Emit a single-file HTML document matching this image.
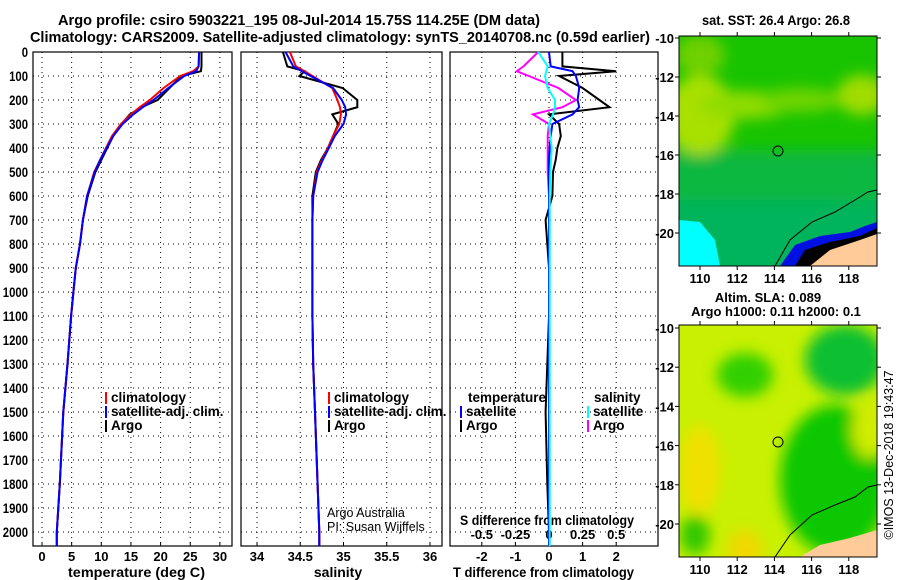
<!DOCTYPE html>
<html><head><meta charset="utf-8"><style>
body{margin:0;background:#fff;}
svg{display:block;font-family:"Liberation Sans",sans-serif;}
.b{font-weight:bold;}
</style></head><body>
<svg id="fig" width="900" height="580" viewBox="0 0 900 580">
<defs>
<filter id="blur" x="-30%" y="-30%" width="160%" height="160%"><feGaussianBlur stdDeviation="7"/></filter>
<clipPath id="m1"><rect x="679" y="36" width="198" height="230"/></clipPath>
<clipPath id="m2"><rect x="679" y="325" width="198" height="232"/></clipPath>
</defs>
<text class="b" x="58" y="25" font-size="15" textLength="482" lengthAdjust="spacingAndGlyphs">Argo profile: csiro 5903221_195 08-Jul-2014 15.75S 114.25E (DM data)</text>
<text class="b" x="30" y="42" font-size="15" textLength="620" lengthAdjust="spacingAndGlyphs">Climatology: CARS2009. Satellite-adjusted climatology: synTS_20140708.nc (0.59d earlier)</text>
<g id="plots"></g>
<!-- Map 1 -->
<g clip-path="url(#m1)">
<rect x="679" y="36" width="198" height="230" fill="#18c400"/>
<g filter="url(#blur)">
<rect x="670" y="150" width="220" height="130" fill="#08b840"/>
<rect x="670" y="200" width="220" height="80" fill="#00b45c"/>
<ellipse cx="700" cy="115" rx="35" ry="40" fill="#a8e000"/>
<ellipse cx="745" cy="105" rx="45" ry="14" fill="#90dc00"/>
<ellipse cx="800" cy="100" rx="40" ry="12" fill="#70d400"/>
<ellipse cx="862" cy="95" rx="25" ry="20" fill="#a0dc00"/>
<ellipse cx="700" cy="55" rx="25" ry="20" fill="#70d000"/>
</g>
<polygon points="679,220 700,222 715,240 720,266 679,266" fill="#00ffff"/>
<polygon points="780,266 795,245 820,236 850,232 865,226 877,222 877,266" fill="#0010e0"/>
<polygon points="795,266 805,250 830,242 860,236 877,228 877,266" fill="#000"/>
<polygon points="810,266 830,250 860,240 877,234 877,266" fill="#ffcc99"/>
<polyline points="775,266 790,240 812,222 835,212 855,200 868,192 877,190" fill="none" stroke="#000" stroke-width="1"/>
<circle cx="778" cy="151" r="5" fill="none" stroke="#000"/>
</g>
<rect x="679" y="36" width="198" height="230" fill="none" stroke="#000"/>
<text class="b" x="702" y="25" font-size="13.5" textLength="148" lengthAdjust="spacingAndGlyphs">sat. SST: 26.4 Argo: 26.8</text>
<!-- Map 2 -->
<g clip-path="url(#m2)">
<rect x="679" y="325" width="198" height="232" fill="#c8f000"/>
<g filter="url(#blur)">
<ellipse cx="745" cy="375" rx="28" ry="22" fill="#30d000"/>
<ellipse cx="845" cy="360" rx="40" ry="35" fill="#10c030"/>
<ellipse cx="835" cy="480" rx="55" ry="75" fill="#10c800"/>
<ellipse cx="700" cy="470" rx="20" ry="45" fill="#f0e000"/>
<ellipse cx="745" cy="550" rx="18" ry="20" fill="#f0d800"/>
<ellipse cx="695" cy="535" rx="15" ry="20" fill="#30c800"/>
<ellipse cx="870" cy="430" rx="18" ry="28" fill="#d0ec00"/>
</g>
<polygon points="800,557 820,545 850,538 877,530 877,557" fill="#ffcc99"/>
<polyline points="775,557 790,535 812,515 835,505 855,497 868,487 877,485" fill="none" stroke="#000" stroke-width="1"/>
<circle cx="778" cy="442" r="5" fill="none" stroke="#000"/>
</g>
<rect x="679" y="325" width="198" height="232" fill="none" stroke="#000"/>
<text class="b" x="768" y="302" text-anchor="middle" font-size="13">Altim. SLA: 0.089</text>
<text class="b" x="776" y="316" text-anchor="middle" font-size="13">Argo h1000: 0.11 h2000: 0.1</text>
<g id="maptick"></g>
<text x="893" y="455" font-size="12.5" text-anchor="middle" transform="rotate(-90 893 455)">©IMOS 13-Dec-2018 19:43:47</text>
</svg>
<script>
// ---------- data ----------
const depths   = [0, 60, 80, 100, 150, 200, 230, 260, 300, 350, 400, 450, 500, 600, 700, 800, 900, 1000, 1100, 1300, 1500, 1800, 2000];
const tempClim = [26.5, 26.4, 25.5, 23.3, 20.5, 18.2, 16.5, 15.0, 13.3, 11.8, 10.8, 9.8, 8.8, 7.6, 6.9, 6.4, 5.7, 5.3, 4.9, 4.3, 3.6, 3.0, 2.5];
const tempSat  = [26.5, 26.4, 26.0, 24.0, 21.3, 18.8, 17.0, 15.4, 13.6, 12.0, 10.9, 9.8, 8.9, 7.6, 6.9, 6.4, 5.7, 5.3, 4.9, 4.3, 3.6, 3.0, 2.5];
const tempArgo = [26.9, 26.9, 26.8, 23.5, 21.5, 19.5, 16.8, 14.8, 13.4, 12.0, 11.0, 10.0, 9.0, 7.7, 6.9, 6.4, 5.7, 5.3, 4.9, 4.3, 3.6, 3.0, 2.5];
const salClim  = [34.38, 34.45, 34.55, 34.64, 34.87, 34.93, 34.96, 34.97, 34.95, 34.88, 34.82, 34.75, 34.69, 34.65, 34.64, 34.64, 34.64, 34.64, 34.64, 34.65, 34.67, 34.70, 34.72];
const salSat   = [34.33, 34.42, 34.52, 34.62, 34.88, 34.98, 35.02, 35.03, 35.00, 34.90, 34.83, 34.76, 34.70, 34.65, 34.64, 34.64, 34.64, 34.64, 34.64, 34.65, 34.67, 34.70, 34.72];
const salArgo  = [34.30, 34.35, 34.55, 34.49, 34.99, 35.16, 35.16, 34.87, 34.94, 34.88, 34.82, 34.74, 34.68, 34.64, 34.64, 34.64, 34.64, 34.64, 34.64, 34.65, 34.67, 34.70, 34.72];
const dTArgo   = [0.4, 0.4, 2.0, 0.3, 1.0, 1.5, 1.8, 0.0, 0.3, 0.35, 0.25, 0.2, 0.12, 0.1, -0.1, -0.05, 0, 0, 0, -0.05, -0.1, -0.05, 0];
const dTSat    = [0, 0.05, 0.7, 0.8, 0.9, 0.85, 0.9, 0.7, 0.1, 0.05, 0.02, 0, 0, 0, 0, 0, 0, 0, 0, 0, 0, 0, 0];
const dSArgo   = [-0.08, -0.19, -0.24, -0.15, 0.07, 0.2, 0.1, -0.12, 0, -0.01, -0.01, -0.01, -0.01, 0, 0, 0, 0, 0, 0, 0, 0, 0, 0];
const dSSat    = [-0.08, -0.01, -0.02, -0.03, -0.01, 0.045, 0.045, 0.03, 0, 0.01, 0.02, 0.015, 0.01, 0.005, 0.005, 0.005, 0.005, 0.005, 0.005, 0.005, 0.005, 0.005, 0.005];
const depthTicks = [0,100,200,300,400,500,600,700,800,900,1000,1100,1200,1300,1400,1500,1600,1700,1800,1900,2000];
const tempTicks = [0,5,10,15,20,25,30];
const salTicks = [34,34.5,35,35.5,36];
const salTickLabels = ["34","34.5","35","35.5","36"];
const dTTicks = [-2,-1,0,1,2];
const dSTicks = [-0.5,-0.25,0,0.25,0.5];
const dSTickLabels = ["-0.5","-0.25","0","0.25","0.5"];
const latTicks = [-10,-12,-14,-16,-18,-20];
const lonTicks = [110,112,114,116,118];

// ---------- scales ----------
const TOP=52, BOT=546;
const yD = d => TOP + d*0.24;
const xT = t => 42 + t*5.93;
const xS = s => 257 + (s-34)*86.5;
const xDT = v => 549 + v*33.6;
const xDS = v => 549 + v*134.4;
const NS='http://www.w3.org/2000/svg';
const g = document.getElementById('plots');
function mk(tag, attrs, parent){const e=document.createElementNS(NS,tag);for(const k in attrs)e.setAttribute(k,attrs[k]);(parent||g).appendChild(e);return e;}
function txt(x,y,s,anchor,cls,fs){const e=mk('text',{x:x,y:y,'text-anchor':anchor||'start','font-size':fs||13});if(cls)e.setAttribute('class',cls);e.textContent=s;return e;}
function fit(e,w){e.setAttribute('textLength',w);e.setAttribute('lengthAdjust','spacingAndGlyphs');}

const panels=[{l:33,r:232,name:'temperature-panel'},{l:241,r:442,name:'salinity-panel'},{l:450,r:658,name:'difference-panel'}];
const xgrids=[tempTicks.map(xT), salTicks.map(xS), dTTicks.map(xDT)];
panels.forEach((p,i)=>{
  const grp=mk('g',{});
  
  
  depthTicks.forEach(d=>{
    const l=mk('line',{x1:p.l,x2:p.r,y1:yD(d),y2:yD(d),stroke:'#000','stroke-dasharray':'1,4','stroke-width':1},grp);
    
    
  });
  xgrids[i].forEach(x=>{
    const l=mk('line',{x1:x,x2:x,y1:TOP,y2:BOT,stroke:'#000','stroke-dasharray':'1,4','stroke-width':1},grp);
    
    
    mk('line',{x1:x,x2:x,y1:BOT,y2:BOT-4,stroke:'#000'},grp);
  });
  const fr=mk('rect',{x:p.l,y:TOP,width:p.r-p.l,height:BOT-TOP,fill:'none',stroke:'#000','stroke-width':1.2},grp);
  
  
});
depthTicks.forEach(d=>{
  const s=String(d);
  const t=txt(28,yD(d)+5,s,'end','b',13.5);
  fit(t, s.length*6.3);
  
  
});
tempTicks.forEach(v=>{const t=txt(xT(v),561,String(v),'middle','b');});
salTicks.forEach((v,i)=>{const t=txt(xS(v),561,salTickLabels[i],'middle','b');});
dTTicks.forEach(v=>{const t=txt(xDT(v),561,String(v),'middle','b');});
dSTicks.forEach((v,i)=>{const t=txt(xDS(v),539,dSTickLabels[i],'middle','b');});
let t;
t=txt(68,577,'temperature (deg C)','start','b',14);fit(t,137);
t=txt(338,577,'salinity','middle','b',14);
t=txt(453,577,'T difference from climatology','start','b',14);fit(t,181);
t=txt(460,525,'S difference from climatology','start','b',14);fit(t,174);
t=txt(327,517,'Argo Australia','start',null,12.5);
t=txt(327,531,'PI: Susan Wijffels','start',null,12.5);

function series(vals, xf, color, name){
  const pts=depths.map((d,i)=>xf(vals[i]).toFixed(1)+','+yD(d).toFixed(1));
  pts.push(xf(vals[vals.length-1]).toFixed(1)+','+BOT);
  const l=mk('polyline',{points:pts.join(' '),fill:'none',stroke:color,'stroke-width':2});
  
  
}
series(tempArgo,xT,'#000','temperature-argo-line');
series(tempClim,xT,'#f00','temperature-climatology-line');
series(tempSat,xT,'#00f','temperature-satellite-line');
series(salArgo,xS,'#000','salinity-argo-line');
series(salClim,xS,'#f00','salinity-climatology-line');
series(salSat,xS,'#00f','salinity-satellite-line');
series(dTArgo,xDT,'#000','t-diff-argo-line');
series(dSArgo,xDS,'#f0f','s-diff-argo-line');
series(dTSat,xDT,'#00f','t-diff-satellite-line');
series(dSSat,xDS,'#0ff','s-diff-satellite-line');

function legend(x,y,color,label,name){
  const r=mk('rect',{x:x,y:y-10,width:2,height:12,fill:color});
  
  
  const t=txt(x+6,y,label,'start','b',13.5);
  
  
}
legend(105,402,'#f00','climatology','legend-climatology');
legend(105,416,'#00f','satellite-adj. clim.','legend-satellite-adj');
legend(105,430,'#000','Argo','legend-argo');
legend(328,402,'#f00','climatology','legend-sal-climatology');
legend(328,416,'#00f','satellite-adj. clim.','legend-sal-satellite-adj');
legend(328,430,'#000','Argo','legend-sal-argo');
t=txt(468,402,'temperature','start','b',13.5);
t=txt(594,402,'salinity','start','b',13.5);
legend(460,416,'#00f','satellite','legend-t-satellite');
legend(460,430,'#000','Argo','legend-t-argo');
legend(587,416,'#0ff','satellite','legend-s-satellite');
legend(587,430,'#f0f','Argo','legend-s-argo');

// map ticks
const mt=document.getElementById('maptick');
const xLon = lo => 700 + (lo-110)*18.6;
[[36,38,19.5,266],[325,328,19.6,557]].forEach(([top,lat10,ppd,bot])=>{
  latTicks.forEach(la=>{
    const y=lat10+(-10-la)*ppd;
    mk('line',{x1:679,x2:675,y1:y,y2:y,stroke:'#000'},mt);
    mk('line',{x1:877,x2:881,y1:y,y2:y,stroke:'#000'},mt);
    const tt=txt(674,y+5,String(la),'end','b');
    mt.appendChild(tt);
    
    
  });
  lonTicks.forEach(lo=>{
    const x=xLon(lo);
    mk('line',{x1:x,x2:x,y1:top,y2:top-4,stroke:'#000'},mt);
    mk('line',{x1:x,x2:x,y1:bot,y2:bot+4,stroke:'#000'},mt);
    const tt=txt(x,bot+17,String(lo),'middle','b');
    mt.appendChild(tt);
    
    
  });
});
</script>
</body></html>
